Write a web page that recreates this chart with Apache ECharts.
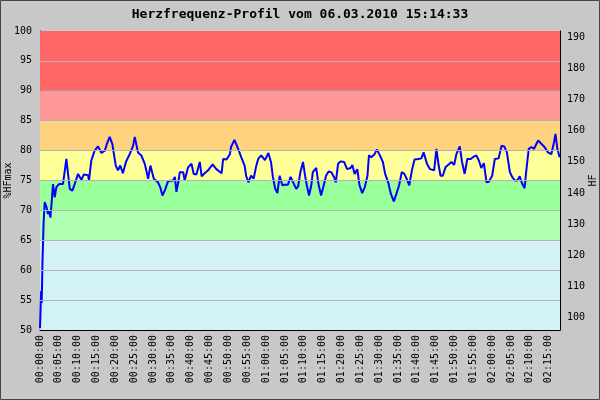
<!DOCTYPE html>
<html>
<head>
<meta charset="utf-8">
<script src="https://cdn.jsdelivr.net/npm/echarts@6/dist/echarts.min.js"></script>
<style>
  html, body { margin: 0; padding: 0; background: #c8c8c8; }
  #chart { width: 600px; height: 400px; }
</style>
</head>
<body>
<div id="chart"></div>
<script>
// time in minutes since start
var minutes = [0, 0.3, 0.45, 0.65, 0.95, 1.25, 1.7, 2.1, 2.5, 2.76, 3.1, 3.45, 3.9, 4.35, 5.05, 6.1, 6.56, 7.0, 7.44, 7.9,
  8.6, 9.2, 10.1, 11.0, 11.6, 12.75, 13.0, 13.6, 14.5, 15.4, 16.3, 17.2, 17.8, 18.5, 19.2, 20.1, 20.7, 21.3, 22.0, 22.8,
  23.8, 24.7, 25.15, 26.0, 26.9, 27.8, 28.7, 29.3, 30.2, 31.3, 31.9, 32.5, 33.1, 34.0, 35.3, 35.8, 36.2, 36.7, 37.1, 38.0,
  38.4, 39.3, 40.2, 40.8, 41.5, 42.4, 42.9, 43.7, 44.6, 45.8, 46.8, 48.2, 48.6, 49.5, 50.4, 50.7, 51.6, 52.5, 53.4, 54.3,
  54.7, 55.3, 56.0, 56.7, 57.3, 57.9, 58.7, 59.7, 60.6, 61.3, 61.8, 62.4, 63.0, 63.6, 64.3, 64.9, 65.8, 66.5, 67.4, 68.0,
  68.5, 69.1, 69.8, 70.4, 70.9, 71.4, 72.0, 72.4, 73.3, 73.9, 74.6, 75.3, 75.9, 76.6, 77.3, 78.0, 78.5, 79.1, 79.8, 80.7,
  81.5, 82.4, 82.9, 83.5, 84.2, 84.8, 85.5, 86.2, 86.9, 87.3, 87.9, 88.8, 89.4, 90.2, 91.0, 91.6, 92.4, 93.1, 93.9, 94.6,
  95.3, 96.0, 96.7, 97.3, 98.0, 98.7, 99.4, 100.4, 101.2, 101.8, 102.7, 103.5, 103.9, 104.6, 105.2, 105.8, 106.3, 106.9, 107.6, 108.3,
  109.2, 109.9, 110.5, 111.4, 112.0, 112.7, 113.4, 114.3, 114.9, 115.8, 116.5, 117.1, 117.8, 118.5, 119.1, 120.0, 120.7, 121.7, 122.5, 123.2,
  123.9, 124.7, 125.3, 126.0, 126.7, 127.3, 128.0, 128.6, 129.1, 129.7, 130.4, 131.1, 132.2, 133.1, 133.9, 134.8, 135.7, 136.4, 136.8, 137.3,
  137.9];
// heart rate in % of HFmax
var hfPercent = [50.3, 56.5, 54.5, 61.2, 67.8, 71.4, 70.6, 69.4, 69.8, 68.8, 71.4, 74.4, 72.2, 73.9, 74.4, 74.4, 74.2, 78.6, 76.1, 73.6,
  73.3, 74.4, 76.1, 75.1, 76.0, 75.9, 75.0, 78.3, 80.0, 80.7, 79.6, 80.0, 81.2, 82.3, 81.1, 77.5, 76.7, 77.5, 76.2, 78.1,
  79.4, 80.8, 82.3, 79.7, 79.2, 77.8, 75.3, 77.5, 75.3, 74.7, 73.9, 72.5, 73.3, 74.9, 75.0, 75.6, 73.1, 74.7, 76.4, 76.4,
  75.0, 77.2, 77.8, 76.1, 76.0, 78.1, 75.7, 76.2, 76.7, 77.7, 76.9, 76.2, 78.6, 78.5, 79.4, 80.6, 81.8, 80.4, 78.9, 77.5,
  75.8, 74.7, 75.8, 75.3, 77.2, 78.6, 79.2, 78.4, 79.6, 78.1, 75.6, 73.7, 72.9, 75.8, 74.2, 74.3, 74.3, 75.6, 74.4, 73.6,
  74.0, 76.4, 78.1, 75.6, 73.9, 72.5, 74.2, 76.4, 77.1, 74.4, 72.5, 74.2, 75.8, 76.5, 76.4, 75.6, 74.7, 77.8, 78.2, 78.1,
  76.9, 77.1, 77.6, 76.1, 76.9, 74.2, 72.9, 73.9, 75.8, 79.2, 78.9, 79.4, 80.2, 79.2, 78.1, 76.1, 74.7, 72.8, 71.5, 72.8,
  74.2, 76.4, 76.1, 75.3, 74.2, 76.7, 78.5, 78.6, 78.7, 79.7, 77.8, 76.9, 76.8, 76.7, 80.3, 77.5, 75.8, 75.8, 77.2, 77.6,
  78.1, 77.6, 79.4, 80.7, 78.1, 76.1, 78.6, 78.6, 78.9, 79.2, 78.3, 77.1, 77.9, 74.7, 74.8, 75.8, 78.6, 78.7, 80.8, 80.7,
  79.7, 76.4, 75.6, 75.0, 75.0, 75.7, 74.4, 73.7, 76.9, 80.3, 80.6, 80.3, 81.7, 81.1, 80.6, 79.7, 79.4, 81.4, 82.8, 80.3,
  78.9];

// zone boundaries (%HFmax) and colours
var zoneFrom = [50, 65, 70, 75, 80, 85, 90];
var zoneTo = [65, 70, 75, 80, 85, 90, 100];
var zoneColors = ['#d2f2f6', '#b0ffb0', '#99ff99', '#ffff99', '#ffd27f', '#ff9999', '#ff6666'];
var gridLines = [55, 60, 65, 70, 75, 80, 85, 90, 95];

var xTicks = [0, 5, 10, 15, 20, 25, 30, 35, 40, 45, 50, 55, 60, 65, 70, 75, 80, 85, 90, 95, 100, 105, 110, 115, 120, 125, 130, 135];
var hfLabels = [100, 110, 120, 130, 140, 150, 160, 170, 180, 190];
var hfTicks = [100, 105, 110, 115, 120, 125, 130, 135, 140, 145, 150, 155, 160, 165, 170, 175, 180, 185, 190];

var hfMax = 192;

function pad(n) { return (n < 10 ? '0' : '') + n; }
function fmtTime(v) {
  var h = Math.floor(v / 60), m = Math.round(v % 60);
  return pad(h) + ':' + pad(m) + ':00';
}

var lineData = minutes.map(function (m, i) { return [m, hfPercent[i]]; });
var zoneAreas = zoneFrom.map(function (f, i) {
  return [{ yAxis: f, itemStyle: { color: zoneColors[i] } }, { yAxis: zoneTo[i] }];
});

var font = 'DejaVu Sans Mono';
var chart = echarts.init(document.getElementById('chart'));
var option = {
  backgroundColor: '#c8c8c8',
  animation: false,
  title: {
    text: 'Herzfrequenz-Profil vom 06.03.2010 15:14:33',
    left: 'center',
    top: 3,
    textStyle: { fontFamily: font, fontSize: 13, fontWeight: 'bold', color: '#000' }
  },
  graphic: [{
    type: 'rect',
    shape: { x: 0.5, y: 0.5, width: 599, height: 399 },
    style: { fill: 'none', stroke: '#444', lineWidth: 1 },
    silent: true
  }],
  grid: { left: 40, right: 40, top: 31, bottom: 70, containLabel: false, outerBoundsMode: 'none' },
  xAxis: {
    type: 'value',
    min: 0,
    max: 138,
    axisLine: { lineStyle: { color: '#000' } },
    axisTick: { inside: true, length: 4, customValues: xTicks, lineStyle: { color: '#000' } },
    axisLabel: {
      customValues: xTicks,
      rotate: 90,
      margin: 5,
      fontFamily: font,
      fontSize: 10,
      color: '#000',
      formatter: fmtTime
    },
    splitLine: { show: false }
  },
  yAxis: [{
    type: 'value',
    name: '%HFmax',
    nameLocation: 'middle',
    nameGap: 27,
    nameMoveOverlap: false,
    nameTextStyle: { fontFamily: font, fontSize: 10, color: '#000' },
    min: 50,
    max: 100,
    interval: 5,
    axisLine: { show: true, lineStyle: { color: '#000' } },
    axisTick: { show: true, inside: true, length: 4, lineStyle: { color: '#000' } },
    axisLabel: { margin: 8, fontFamily: font, fontSize: 10, color: '#000' },
    splitLine: { show: false }
  }, {
    type: 'value',
    name: 'HF',
    nameLocation: 'middle',
    nameGap: 28,
    nameRotate: 90,
    nameMoveOverlap: false,
    nameTextStyle: { fontFamily: font, fontSize: 10, color: '#000' },
    min: hfMax / 2,
    max: hfMax,
    axisLine: { show: true, lineStyle: { color: '#000' } },
    axisTick: { show: true, inside: true, length: 4, customValues: hfTicks, lineStyle: { color: '#000' } },
    axisLabel: { customValues: hfLabels, margin: 7, fontFamily: font, fontSize: 10, color: '#000' },
    splitLine: { show: false }
  }],
  series: [{
    name: 'zones',
    type: 'line',
    data: [],
    z: 1,
    silent: true,
    markArea: { silent: true, data: zoneAreas },
    markLine: {
      silent: true,
      symbol: 'none',
      label: { show: false },
      lineStyle: { color: '#b4b4b4', type: 'solid', width: 1 },
      data: gridLines.map(function (v) { return { yAxis: v }; })
    }
  }, {
    name: 'HF',
    type: 'line',
    z: 3,
    data: lineData,
    showSymbol: false,
    lineStyle: { color: '#0000ff', width: 2 },
    itemStyle: { color: '#0000ff' }
  }]
};
chart.setOption(option);
</script>
</body>
</html>
